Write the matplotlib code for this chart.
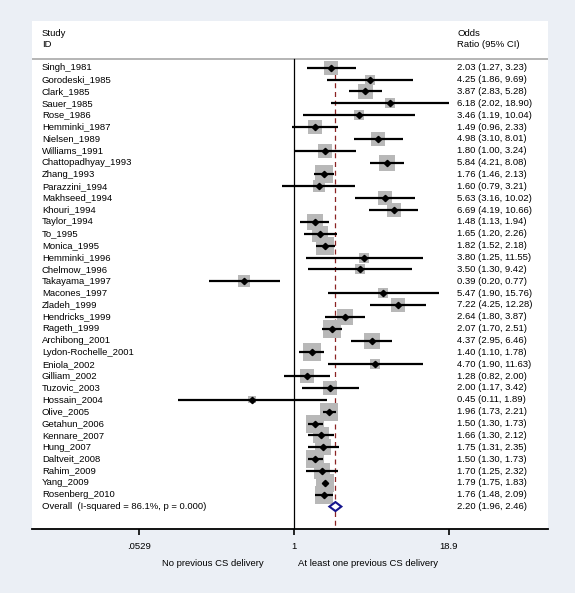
import numpy as np
import matplotlib
matplotlib.use("Agg")
import matplotlib.pyplot as plt
from matplotlib.patches import Polygon
from matplotlib.transforms import blended_transform_factory

# Дані
studies = ["Singh_1981", "Gorodeski_1985", "Clark_1985", "Sauer_1985", "Rose_1986",
           "Hemminki_1987", "Nielsen_1989", "Williams_1991", "Chattopadhyay_1993",
           "Zhang_1993", "Parazzini_1994", "Makhseed_1994", "Khouri_1994", "Taylor_1994",
           "To_1995", "Monica_1995", "Hemminki_1996", "Chelmow_1996", "Takayama_1997",
           "Macones_1997", "Zladeh_1999", "Hendricks_1999", "Rageth_1999", "Archibong_2001",
           "Lydon-Rochelle_2001", "Eniola_2002", "Gilliam_2002", "Tuzovic_2003",
           "Hossain_2004", "Olive_2005", "Getahun_2006", "Kennare_2007", "Hung_2007",
           "Daltveit_2008", "Rahim_2009", "Yang_2009", "Rosenberg_2010"]
odds = [2.03, 4.25, 3.87, 6.18, 3.46, 1.49, 4.98, 1.80, 5.84, 1.76, 1.60, 5.63, 6.69,
        1.48, 1.65, 1.82, 3.80, 3.50, 0.39, 5.47, 7.22, 2.64, 2.07, 4.37, 1.40, 4.70,
        1.28, 2.00, 0.45, 1.96, 1.50, 1.66, 1.75, 1.50, 1.70, 1.79, 1.76]
lower = [1.27, 1.86, 2.83, 2.02, 1.19, 0.96, 3.10, 1.00, 4.21, 1.46, 0.79, 3.16, 4.19,
         1.13, 1.20, 1.52, 1.25, 1.30, 0.20, 1.90, 4.25, 1.80, 1.70, 2.95, 1.10, 1.90,
         0.82, 1.17, 0.11, 1.73, 1.30, 1.30, 1.31, 1.30, 1.25, 1.75, 1.48]
upper = [3.23, 9.69, 5.28, 18.90, 10.04, 2.33, 8.01, 3.24, 8.08, 2.13, 3.21, 10.02, 10.66,
         1.94, 2.26, 2.18, 11.55, 9.42, 0.77, 15.76, 12.28, 3.87, 2.51, 6.46, 1.78, 11.63,
         2.00, 3.42, 1.89, 2.21, 1.73, 2.12, 2.35, 1.73, 2.32, 1.83, 2.09]
# ваги (%), оцінені за розміром квадратів
weights = [1.96, 1.0, 2.35, 1.0, 1.0, 1.96, 1.96, 1.96, 2.56, 3.24, 1.44, 1.96, 1.96,
           2.56, 2.56, 3.24, 1.0, 1.0, 1.44, 1.0, 1.96, 2.56, 3.24, 2.56, 3.24, 1.0,
           1.96, 1.96, 0.5, 3.24, 3.24, 2.56, 2.56, 3.24, 2.56, 3.24, 3.24]
overall = [2.20, 1.96, 2.46]
overall_label = "Overall  (I-squared = 86.1%, p = 0.000)"
tick_values = [0.0529, 1, 18.9]
tick_labels = [".0529", "1", "18.9"]

BG = "#ebeff5"
plt.rcParams["font.family"] = ["Liberation Sans", "DejaVu Sans"]
plt.rcParams["font.size"] = 6.8

W, H = 575, 593
fig = plt.figure(figsize=(W / 100, H / 100), dpi=100, facecolor=BG)
ax = fig.add_axes([32 / W, 1 - 529 / H, 516 / W, (529 - 21) / H], facecolor="white")

n = len(studies)
rows = np.arange(n)
ax.set_xscale("log")
ax.set_xlim(np.exp(-4.981), np.exp(4.829))
ax.set_ylim(38.89, -3.94)

# лінія під заголовком і вертикальні лінії
ax.axhline(-0.73, color="#b4b4b4", lw=1.4)
ax.plot([1, 1], [-0.73, 38.89], color="black", lw=0.9)
ax.plot([overall[0]] * 2, [0.5, 38.89], color="#8b2323", lw=0.9, ls=(0, (4, 3)))

# квадрати ваг, довірчі інтервали, точки
sides = 10 * np.sqrt(weights) * 0.72
ax.scatter(odds, rows, s=sides ** 2, marker="s", color="#b8b8b8", lw=0, zorder=2)
ax.hlines(rows, lower, upper, color="black", lw=1.6, zorder=3)
ax.plot(odds, rows, "D", color="black", ms=3.2, zorder=4)

# ромб загального ефекту
yo = n
diamond = Polygon([[overall[1], yo], [overall[0], yo - 0.38], [overall[2], yo],
                   [overall[0], yo + 0.38]], closed=True, facecolor="white",
                  edgecolor="#14148c", lw=1.5, zorder=4)
ax.add_patch(diamond)

# текстові колонки
tr = blended_transform_factory(ax.transAxes, ax.transData)
x_left, x_right = 10 / 516, 425 / 516
ax.text(x_left, -2.87, "Study", transform=tr, va="center")
ax.text(x_left, -1.92, "ID", transform=tr, va="center")
ax.text(x_right, -2.87, "Odds", transform=tr, va="center")
ax.text(x_right, -1.92, "Ratio (95% CI)", transform=tr, va="center")
for i in range(n):
    ax.text(x_left, i, studies[i], transform=tr, va="center")
    ax.text(x_right, i, f"{odds[i]:.2f} ({lower[i]:.2f}, {upper[i]:.2f})",
            transform=tr, va="center")
ax.text(x_left, yo, overall_label, transform=tr, va="center")
ax.text(x_right, yo, f"{overall[0]:.2f} ({overall[1]:.2f}, {overall[2]:.2f})",
        transform=tr, va="center")

# вісь
for side in ["top", "left", "right"]:
    ax.spines[side].set_visible(False)
ax.spines["bottom"].set_linewidth(1.3)
ax.set_yticks([])
ax.set_xticks(tick_values)
ax.set_xticklabels(tick_labels)
ax.xaxis.set_minor_locator(matplotlib.ticker.NullLocator())
ax.tick_params(axis="x", length=4.3, width=1.2, pad=5, labelsize=6.8)

ty = 1 - 563 / H
fig.text(264 / W, ty, "No previous CS delivery", ha="right", va="center")
fig.text(298 / W, ty, "At least one previous CS delivery", ha="left", va="center")

fig.savefig("out.png", dpi=100, facecolor=BG)
